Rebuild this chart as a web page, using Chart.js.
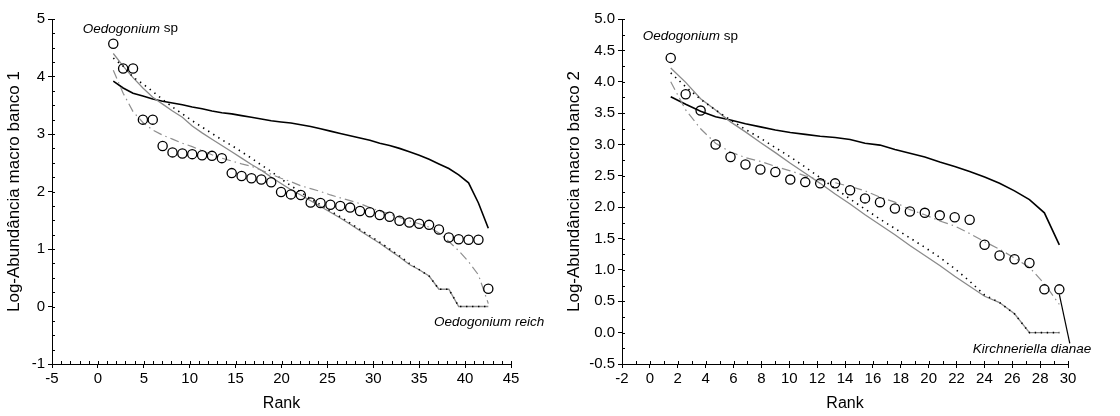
<!DOCTYPE html>
<html><head><meta charset="utf-8">
<script src="https://cdn.jsdelivr.net/npm/chart.js@4.4.1/dist/chart.umd.min.js"></script>
<style>
html,body{margin:0;padding:0;background:#fff;}
#wrap{position:relative;width:1120px;height:416px;overflow:hidden;}
.pane{position:absolute;top:0;width:560px;height:416px;}
</style></head><body>
<div id="wrap">
<div class="pane" style="left:0"><canvas id="c1" width="560" height="416"></canvas></div>
<div class="pane" style="left:560px"><canvas id="c2" width="560" height="416"></canvas></div>
</div>
<script>
// ---- Panel 1 (banco 1) ----
const ranks1 = [1,2,3,4,5,6,7,8,9,10,11,12,13,14,15,16,17,18,19,20,21,22,23,24,25,26,27,28,29,30,31,32,33,34,35,36,37,38,39];
const observed1 = [4.57,4.14,4.14,3.25,3.25,2.79,2.68,2.66,2.65,2.63,2.62,2.58,2.32,2.27,2.23,2.21,2.16,1.99,1.95,1.94,1.81,1.80,1.77,1.75,1.72,1.66,1.64,1.59,1.56,1.49,1.46,1.44,1.42,1.34,1.20,1.17,1.16,1.16,0.31];
const brokenStick1 = [3.92,3.80,3.71,3.66,3.61,3.57,3.54,3.51,3.47,3.44,3.40,3.37,3.35,3.32,3.29,3.26,3.23,3.21,3.19,3.16,3.13,3.09,3.05,3.01,2.97,2.93,2.89,2.84,2.80,2.75,2.69,2.63,2.56,2.48,2.40,2.29,2.15,1.80,1.36];
const geometric1 = [4.40,4.18,3.98,3.80,3.64,3.52,3.40,3.29,3.14,3.02,2.91,2.80,2.69,2.58,2.47,2.37,2.25,2.14,2.03,1.94,1.84,1.74,1.64,1.54,1.43,1.32,1.21,1.10,0.98,0.86,0.73,0.64,0.53,0.30,0.30,0,0,0,0];
const logSeries1 = [4.32,4.18,3.99,3.87,3.74,3.60,3.47,3.35,3.23,3.12,3.01,2.90,2.80,2.69,2.58,2.46,2.35,2.22,2.10,1.99,1.87,1.77,1.66,1.56,1.45,1.34,1.23,1.12,1.00,0.88,0.75,0.64,0.53,0.30,0.30,0,0,0,0];
const logNormal1 = [4.11,3.71,3.39,3.20,3.07,2.98,2.91,2.84,2.78,2.71,2.64,2.58,2.53,2.48,2.44,2.37,2.30,2.23,2.17,2.10,2.05,2.00,1.94,1.89,1.84,1.79,1.72,1.66,1.61,1.55,1.49,1.44,1.38,1.28,1.13,0.97,0.78,0.55,0.05];
// tick labels as printed in the reference; they are spread evenly along the drawn x extent
const xTickLabels1 = ['-5','0','5','10','15','20','25','30','35','40','45'];
const xExtent1 = [-5.21, 41.30];
const yTicks1 = [-1,0,1,2,3,4,5];

// ---- Panel 2 (banco 2) ----
const ranks2 = [1,2,3,4,5,6,7,8,9,10,11,12,13,14,15,16,17,18,19,20,21,22,23,24,25,26,27];
const observed2 = [4.38,3.80,3.54,3.00,2.80,2.68,2.60,2.56,2.44,2.40,2.38,2.38,2.27,2.14,2.08,1.98,1.93,1.91,1.87,1.84,1.80,1.40,1.23,1.17,1.11,0.69,0.69];
const brokenStick2 = [3.76,3.64,3.53,3.44,3.39,3.33,3.28,3.23,3.19,3.16,3.13,3.11,3.08,3.02,2.99,2.92,2.86,2.80,2.72,2.65,2.57,2.48,2.38,2.26,2.12,1.91,1.40];
const geometric2 = [4.22,3.99,3.73,3.55,3.36,3.20,3.03,2.87,2.70,2.54,2.38,2.21,2.05,1.88,1.72,1.56,1.39,1.23,1.07,0.90,0.74,0.58,0.48,0.30,0,0,0];
const logSeries2 = [4.14,3.92,3.72,3.55,3.39,3.24,3.10,2.95,2.80,2.64,2.47,2.30,2.13,1.97,1.81,1.66,1.51,1.36,1.20,1.02,0.82,0.60,0.48,0.30,0,0,0];
const logNormal2 = [4.00,3.55,3.25,3.02,2.88,2.79,2.73,2.65,2.58,2.50,2.43,2.39,2.33,2.26,2.16,2.08,1.96,1.88,1.78,1.70,1.58,1.45,1.33,1.19,1.04,0.78,0.45];
const xTickLabels2 = ['-2','0','2','4','6','8','10','12','14','16','18','20','22','24','26','28','30'];
const xExtent2 = [-2.26, 27.58];
const yTicks2 = [-0.5,0,0.5,1,1.5,2,2.5,3,3.5,4,4.5,5];

const FONT = "'Liberation Sans', Arial, sans-serif";

function pts(xs, ys){ return xs.map((x,i)=>({x:x, y:ys[i]})); }

function makeChart(id, cfg){
  const lineBase = {type:'line', pointRadius:0, pointHoverRadius:0, tension:0, fill:false, showLine:true};
  const datasets = [
    Object.assign({}, lineBase, {label:'Broken stick', data:pts(cfg.ranks,cfg.broken), borderColor:'#000', borderWidth:1.6, order:5}),
    Object.assign({}, lineBase, {label:'Geometric', data:pts(cfg.ranks,cfg.geom), borderColor:'#8a8a8a', borderWidth:1.3, order:4}),
    Object.assign({}, lineBase, {label:'Log series', data:pts(cfg.ranks,cfg.logser), borderColor:'#000', borderWidth:1.6, borderDash:[1.4,4.6], order:3}),
    Object.assign({}, lineBase, {label:'Log normal', data:pts(cfg.ranks,cfg.lognorm), borderColor:'#8f8f8f', borderWidth:1.2, borderDash:[9,4,1.5,4], order:2}),
    {type:'scatter', label:'Observed', data:pts(cfg.ranks,cfg.obs), showLine:false, pointStyle:'circle', pointRadius:4.6, pointHoverRadius:4.6, borderColor:'#000', backgroundColor:'rgba(0,0,0,0)', borderWidth:1.3, order:1}
  ];
  const nX = cfg.xLabels.length;
  const xStep = (cfg.xExtent[1] - cfg.xExtent[0]) / (nX - 1);
  const annot = {
    id:'annot',
    afterDatasetsDraw(chart){
      const ctx = chart.ctx, xs = chart.scales.x, ys = chart.scales.y;
      ctx.save();
      ctx.fillStyle = '#000';
      ctx.textBaseline = 'middle';
      cfg.notes.forEach(n=>{
        const px = xs.getPixelForValue(n.x), py = ys.getPixelForValue(n.y);
        ctx.font = 'italic 13.5px ' + FONT;
        ctx.fillText(n.it, px, py);
        if (n.rest){
          const w = ctx.measureText(n.it).width;
          ctx.font = '13.5px ' + FONT;
          ctx.fillText(n.rest, px + w, py);
        }
      });
      if (cfg.leader){
        const L = cfg.leader;
        ctx.strokeStyle = '#000'; ctx.lineWidth = 1.2;
        ctx.beginPath();
        ctx.moveTo(xs.getPixelForValue(L.x0), ys.getPixelForValue(L.y0) + 5);
        ctx.lineTo(xs.getPixelForValue(L.x1), ys.getPixelForValue(L.y1));
        ctx.stroke();
      }
      // minor ticks, pointing inward
      ctx.strokeStyle = '#000'; ctx.lineWidth = 1;
      ctx.beginPath();
      const ca = chart.chartArea;
      const nMinorX = (nX - 1) * cfg.xMinorPerLabel;
      for (let k = 0; k <= nMinorX; k++){
        const v = xs.min + k * (xs.max - xs.min) / nMinorX;
        const p = Math.round(xs.getPixelForValue(v)) + 0.5;
        ctx.moveTo(p, ca.bottom); ctx.lineTo(p, ca.bottom - 3);
      }
      for (let v = ys.min; v <= ys.max + 1e-9; v += cfg.yMinor){
        const p = Math.round(ys.getPixelForValue(v)) + 0.5;
        ctx.moveTo(ca.left, p); ctx.lineTo(ca.left + 3, p);
      }
      ctx.stroke();
      ctx.restore();
    }
  };
  return new Chart(document.getElementById(id), {
    data:{datasets},
    options:{
      responsive:false, animation:false, events:[],
      layout:{padding:{top:19, right:cfg.padRight, bottom:0, left:0}},
      plugins:{legend:{display:false}, tooltip:{enabled:false}},
      scales:{
        x:{type:'linear', min:cfg.xExtent[0], max:cfg.xExtent[1],
           afterBuildTicks:(s)=>{ s.ticks = cfg.xLabels.map((l,k)=>({value: cfg.xExtent[0] + k * xStep})); },
           afterFit:(s)=>{ s.height = 52; },
           grid:{display:true, drawOnChartArea:false, drawTicks:true, tickLength:4, color:'#000', lineWidth:1},
           border:{display:true, color:'#000', width:1},
           ticks:{color:'#000', font:{family:FONT, size:15}, padding:2, maxRotation:0, autoSkip:false,
                  callback:(v, i)=>cfg.xLabels[i]},
           title:{display:true, text:'Rank', color:'#000', font:{family:FONT, size:16}, padding:{top:0,bottom:3}}
        },
        y:{type:'linear', min:cfg.yTicks[0], max:cfg.yTicks[cfg.yTicks.length-1],
           afterBuildTicks:(s)=>{ s.ticks = cfg.yTicks.map(v=>({value:v})); },
           afterFit:(s)=>{ s.width = cfg.yWidth; },
           grid:{display:true, drawOnChartArea:false, drawTicks:true, tickLength:4, color:'#000', lineWidth:1},
           border:{display:true, color:'#000', width:1},
           ticks:{color:'#000', font:{family:FONT, size:15}, padding:3, autoSkip:false,
                  callback:(v)=>cfg.yFmt(v)},
           title:{display:true, text:cfg.yTitle, color:'#000', font:{family:FONT, size:17}, padding:{top:4,bottom:0}}
        }
      }
    },
    plugins:[annot]
  });
}

makeChart('c1', {
  ranks:ranks1, obs:observed1, broken:brokenStick1, geom:geometric1, logser:logSeries1, lognorm:logNormal1,
  xLabels:xTickLabels1, xExtent:xExtent1, yTicks:yTicks1, yFmt:(v)=>String(v),
  yTitle:'Log-Abundância macro banco 1', yWidth:52, padRight:49, xMinorPerLabel:5, yMinor:0.25,
  notes:[{x:-2.1, y:4.83, it:'Oedogonium', rest:' sp'}, {x:33.5, y:-0.28, it:'Oedogonium reich'}]
});
makeChart('c2', {
  ranks:ranks2, obs:observed2, broken:brokenStick2, geom:geometric2, logser:logSeries2, lognorm:logNormal2,
  xLabels:xTickLabels2, xExtent:xExtent2, yTicks:yTicks2, yFmt:(v)=>v.toFixed(1),
  yTitle:'Log-Abundância macro banco 2', yWidth:62, padRight:52, xMinorPerLabel:2, yMinor:0.25,
  notes:[{x:-0.87, y:4.72, it:'Oedogonium', rest:' sp'}, {x:21.2, y:-0.26, it:'Kirchneriella dianae'}],
  leader:{x0:27, y0:0.69, x1:27.7, y1:-0.17}
});
</script>
</body></html>
